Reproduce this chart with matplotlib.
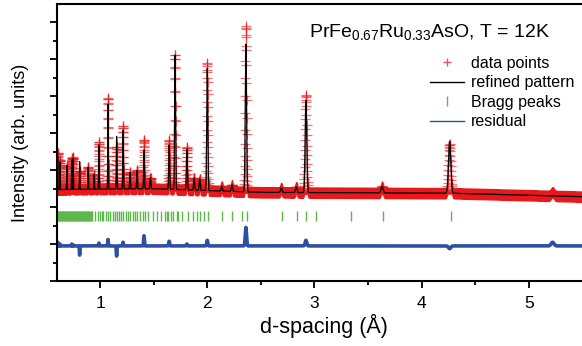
import numpy as np
import matplotlib
matplotlib.use('Agg')
import matplotlib.pyplot as plt
from matplotlib.lines import Line2D

plt.rcParams['font.family'] = ['Liberation Sans', 'DejaVu Sans']
plt.rcParams['mathtext.fontset'] = 'custom'
plt.rcParams['mathtext.rm'] = 'Liberation Sans'
plt.rcParams['mathtext.it'] = 'Liberation Sans'

# peak positions (d, A), observed top and refined top (height above background)
peak_d = [0.605, 0.627, 0.69, 0.736, 0.75, 0.81, 0.89, 0.945, 0.99, 1.075, 1.155,
          1.215, 1.28, 1.345, 1.41, 1.47, 1.645, 1.70, 1.81, 1.877, 1.93, 2.0,
          2.135, 2.23, 2.36, 2.69, 2.83, 2.92, 3.63, 4.26, 5.22]
peak_obs = [2.0, 1.6, 1.3, 1.7, 1.75, 1.0, 1.2, 0.8, 2.55, 4.95, 2.3,
            3.4, 0.9, 1.0, 2.65, 0.6, 2.65, 7.3, 2.3, 0.65, 0.6, 6.9,
            0.25, 0.35, 9.0, 0.25, 0.3, 5.3, 0.35, 2.65, 0.2]
peak_calc = [1.8, 1.5, 1.3, 1.6, 1.7, 1.5, 1.2, 0.8, 2.4, 4.6, 2.85,
             3.2, 0.9, 1.0, 2.1, 0.6, 2.4, 7.3, 2.2, 0.65, 0.6, 6.6,
             0.25, 0.35, 8.0, 0.25, 0.3, 5.0, 0.35, 2.8, 0.0]

# background level read along the baseline
bg_d = [0.6, 1.5, 2.5, 4.3, 5.6]
bg_y = [4.95, 5.0, 4.8, 4.75, 4.55]
noise_band = 0.32   # half width of the scatter of the data around the fit

# Bragg reflection positions
bragg_dense = [0.600, 0.607, 0.613, 0.620, 0.627, 0.634, 0.641, 0.647, 0.654, 0.661,
               0.668, 0.675, 0.682, 0.689, 0.696, 0.703, 0.710, 0.717, 0.724, 0.731,
               0.738, 0.745, 0.752, 0.759, 0.766, 0.773, 0.780, 0.787, 0.794, 0.801,
               0.808, 0.815, 0.822, 0.829, 0.836, 0.843, 0.850, 0.857, 0.864, 0.871,
               0.878, 0.885, 0.892, 0.899, 0.906, 0.913]
bragg_d = [0.923, 0.953, 0.984, 1.000, 1.016, 1.031, 1.056, 1.077, 1.093, 1.124,
           1.140, 1.156, 1.177, 1.193, 1.217, 1.240, 1.264, 1.280, 1.305, 1.326,
           1.348, 1.373, 1.398, 1.419, 1.450, 1.497, 1.528, 1.566, 1.606, 1.622,
           1.637, 1.659, 1.683, 1.715, 1.730, 1.761, 1.823, 1.864, 1.901, 1.932,
           1.969, 2.009, 2.134, 2.233, 2.321, 2.367, 2.693, 2.833, 2.917, 3.010,
           3.336, 3.635, 4.271]

bragg_y = 3.5
resid_y = 1.9

d = np.geomspace(0.599, 5.57, 5000)
bg = np.interp(d, bg_d, bg_y)
obs = bg.copy()
calc = bg.copy()
for p, ho, hc in zip(peak_d, peak_obs, peak_calc):
    s = 0.0025 * p
    g = np.exp(-0.5 * ((d - p) / s) ** 2)
    obs += ho * g
    calc += hc * g
resid = obs - calc + resid_y

fig = plt.figure(figsize=(5.82, 3.46), dpi=100)
ax = fig.add_axes([57 / 582, 65 / 346, 533 / 582, 277 / 346])

red = '#e8191c'
ax.fill_between(d, obs - noise_band, obs + noise_band, color=red, alpha=0.85, lw=0)
ax.plot(d, obs, ls='none', marker='+', ms=6.5, mew=0.9, color=red, alpha=0.6)
ax.plot(d, calc, color='black', lw=0.9)
bragg_all = bragg_dense + bragg_d
ax.plot(bragg_all, [bragg_y] * len(bragg_all), ls='none', marker='|', ms=6.5,
        mew=1.0, color='#5cb84a')
ax.plot(d, resid, color='#2f4fa3', lw=2.6)

ax.set_xlim(0.599, 5.569)
ax.set_ylim(0, 15)
ax.set_xticks([1, 2, 3, 4, 5])
ax.set_xticks([1.5, 2.5, 3.5, 4.5, 5.5], minor=True)
ax.set_yticks(range(0, 15, 2))
ax.set_yticks(range(1, 15, 2), minor=True)
ax.set_yticklabels([])
ax.tick_params(axis='both', which='major', direction='out', length=5, width=1.3, labelsize=12.5)
ax.tick_params(axis='both', which='minor', direction='out', length=3, width=1.3)
ax.tick_params(axis='x', pad=6)
for sp in ax.spines.values():
    sp.set_linewidth(1.5)

ax.set_xlabel('d-spacing (\u00c5)', fontsize=15.5, labelpad=2)
ax.set_ylabel('Intensity (arb. units)', fontsize=13, labelpad=12)

fig.text(430 / 582, 1 - 37 / 346, r'PrFe$_{0.67}$Ru$_{0.33}$AsO, T = 12K',
         ha='center', va='baseline', fontsize=14)

handles = [Line2D([], [], ls='none', marker='+', ms=6, mew=1.0, color=red, alpha=0.75),
           Line2D([], [], color='black', lw=1.0),
           Line2D([], [], ls='none', marker='|', ms=7, mew=1.0, color='#5cb84a'),
           Line2D([], [], color='#2f4fa3', lw=1.0)]
labels = ['data points', 'refined pattern', 'Bragg peaks', 'residual']
fig.legend(handles, labels, loc='upper left', bbox_to_anchor=(430 / 582, 1 - 56 / 346),
           frameon=False, fontsize=11.5, borderpad=0, borderaxespad=0,
           handlelength=2.1, handletextpad=0.45, labelspacing=0.28)

fig.savefig('out.png', dpi=100)
